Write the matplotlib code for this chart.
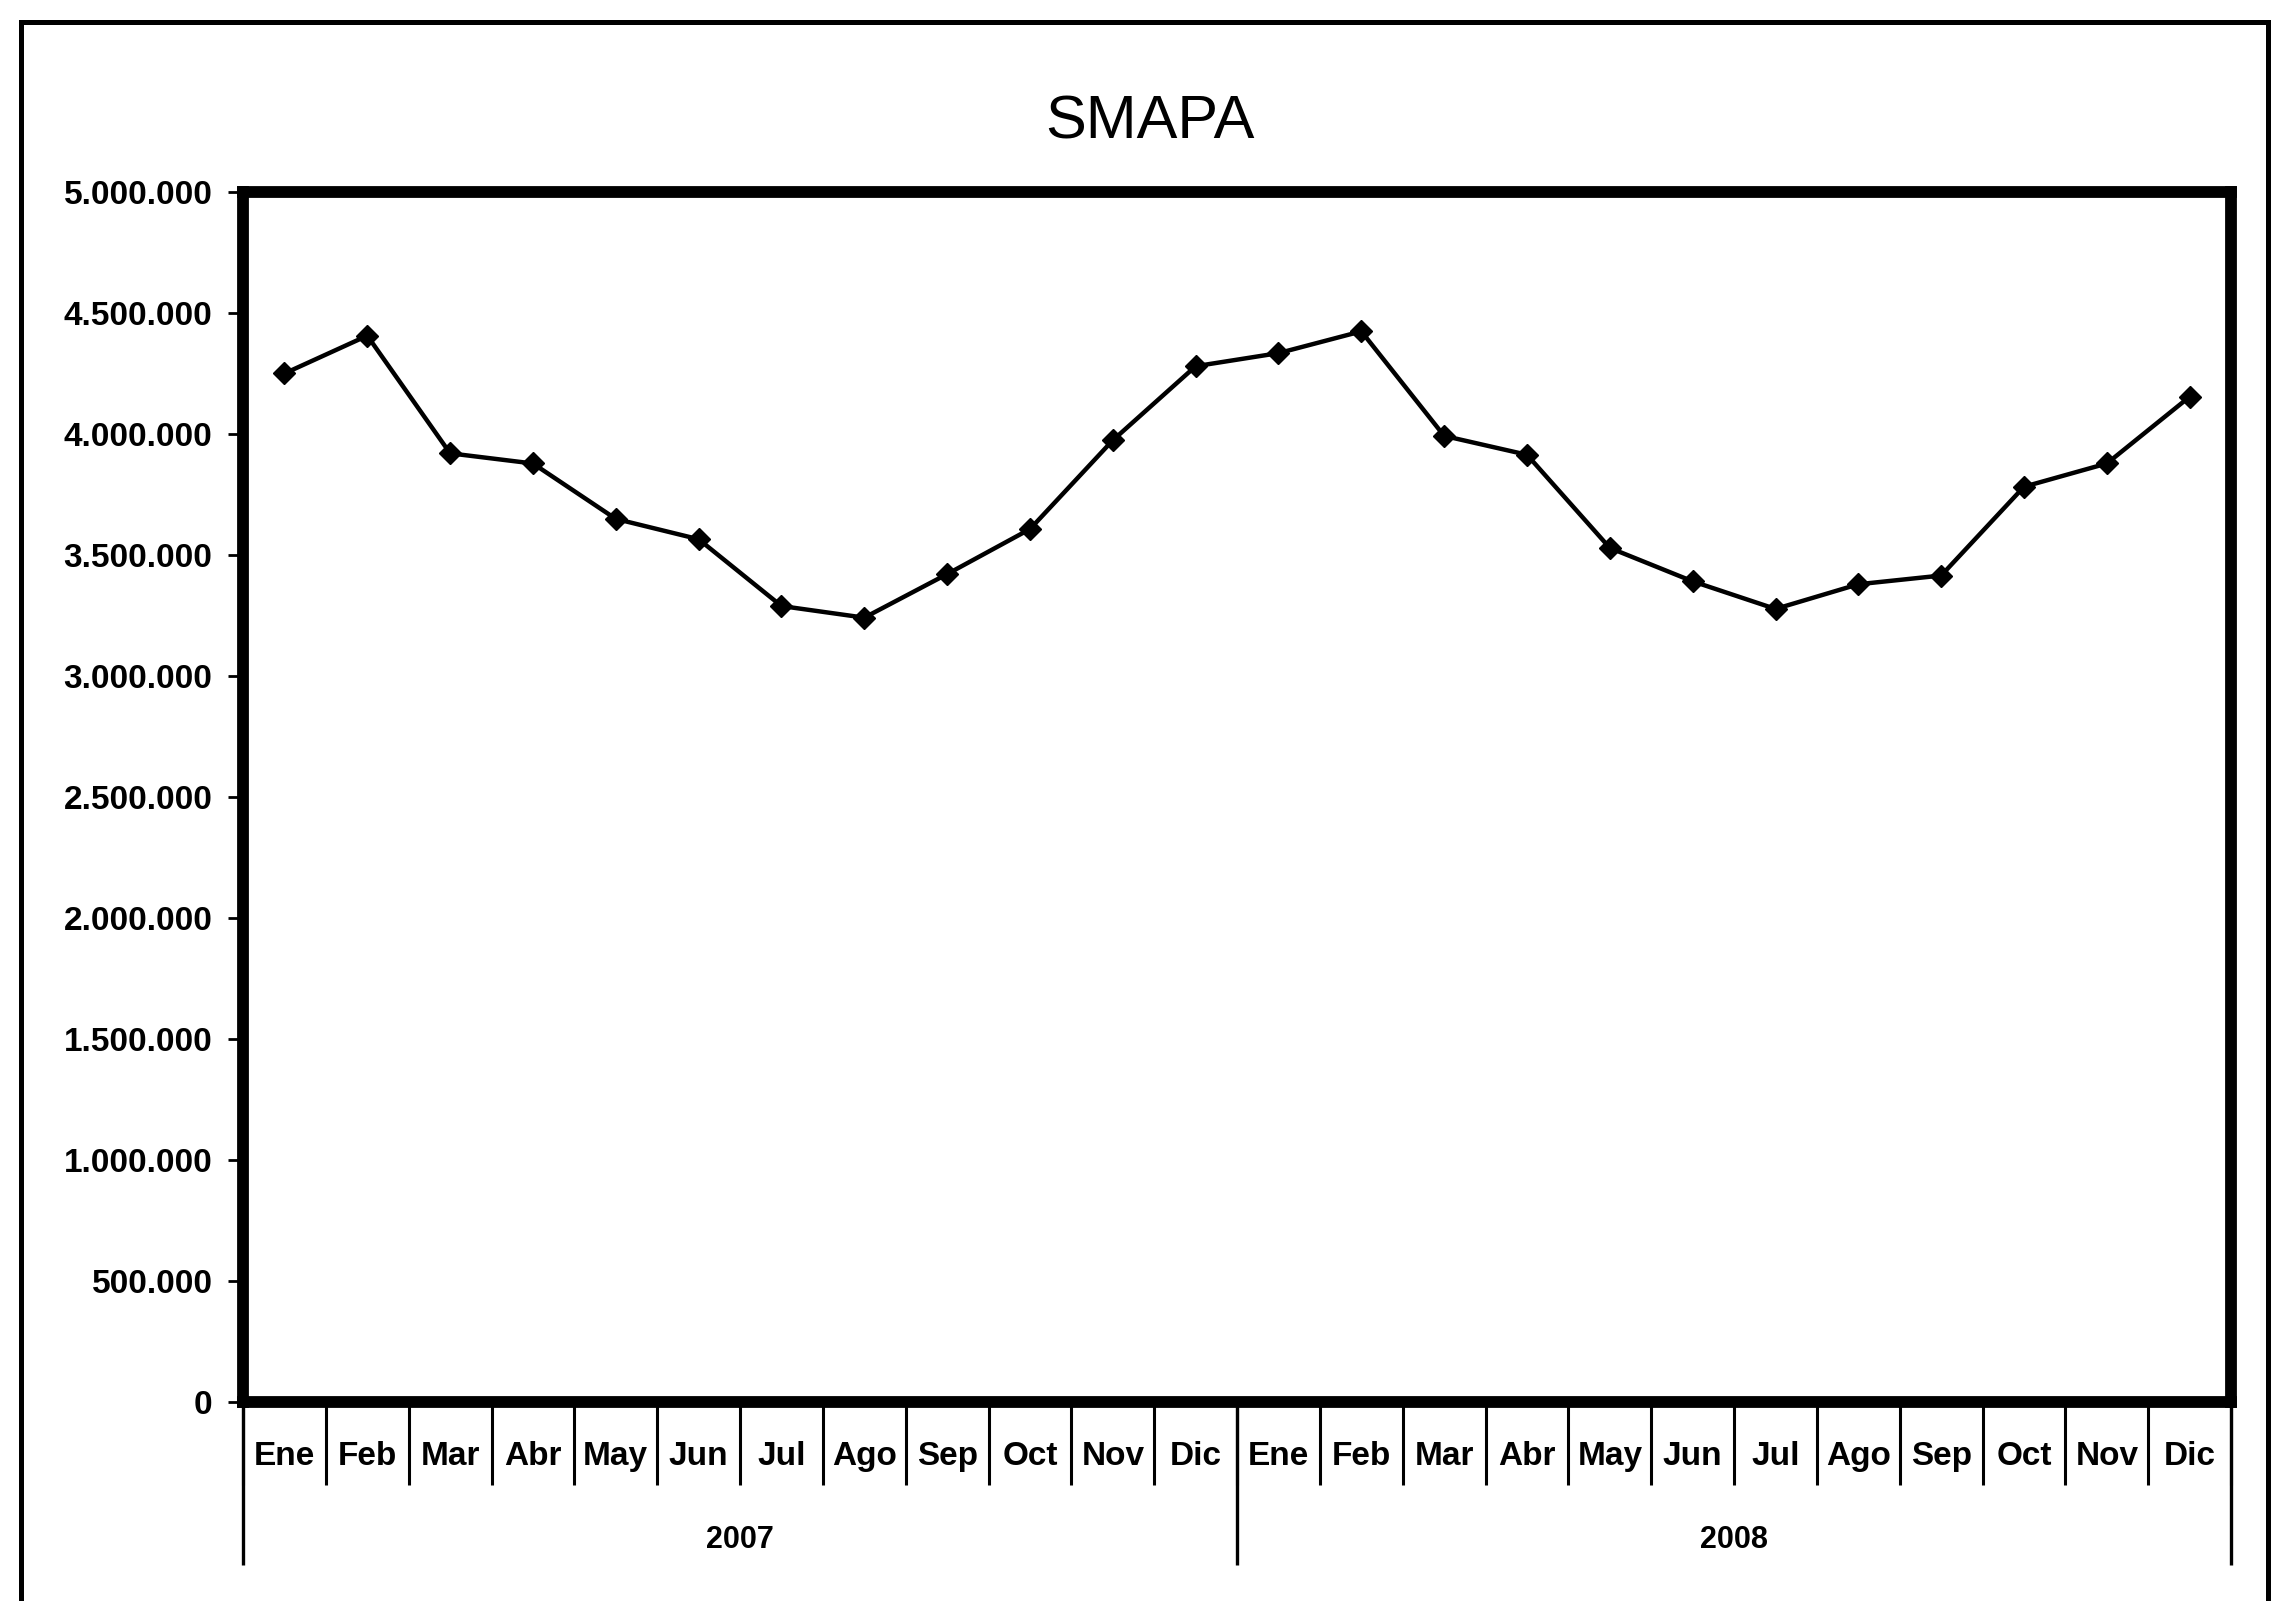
import matplotlib
matplotlib.use("Agg")
import matplotlib.pyplot as plt
from matplotlib.lines import Line2D
from matplotlib.ticker import FuncFormatter, MultipleLocator

# monthly values
months = ["Ene", "Feb", "Mar", "Abr", "May", "Jun",
          "Jul", "Ago", "Sep", "Oct", "Nov", "Dic"]
years = ["2007", "2008"]
values_2007 = [4250000, 4406000, 3920000, 3878000, 3649000, 3565000,
               3289000, 3241000, 3421000, 3607000, 3974000, 4280000]
values_2008 = [4334000, 4424000, 3992000, 3914000, 3529000, 3391000,
               3277000, 3379000, 3415000, 3782000, 3878000, 4154000]

values = values_2007 + values_2008
labels = months * len(years)
x = list(range(len(values)))

plt.rcParams['font.family'] = ['Liberation Sans', 'DejaVu Sans']

fig = plt.figure(figsize=(22.82, 16.01), dpi=100)
ax = fig.add_axes([0.1065, 0.1243, 0.8712, 0.7558])

ax.plot(x, values, color='black', linewidth=3.2, marker='D',
        markersize=11, markerfacecolor='black', markeredgecolor='black')

ax.set_xlim(-0.5, len(values) - 0.5)
ax.set_ylim(0, 5000000)

# thick plot frame
for side in ax.spines.values():
    side.set_linewidth(8.5)
    side.set_color('black')

# y axis
ax.yaxis.set_major_locator(MultipleLocator(500000))
ax.yaxis.set_major_formatter(FuncFormatter(lambda v, p: f"{int(v):,}".replace(",", ".")))
ax.tick_params(axis='y', direction='out', length=11, width=2, pad=11,
               labelsize=24)
for t in ax.get_yticklabels():
    t.set_fontweight('bold')

# x axis: separators between months, labels centred
ax.set_xticks([i - 0.5 for i in range(len(values) + 1)])
ax.set_xticklabels([])
ax.set_xticks(x, minor=True)
ax.set_xticklabels(labels, minor=True, fontsize=24, fontweight='bold')
ax.tick_params(axis='x', which='major', direction='out', length=60, width=2.2)
ax.tick_params(axis='x', which='minor', length=0, pad=28)

# year separators and year labels
trans = ax.get_xaxis_transform()
bounds = [-0.5] + [12 * (k + 1) - 0.5 for k in range(len(years))]
ax.vlines(bounds, -0.135, 0, transform=trans, colors='black',
          linewidth=2.4, clip_on=False)
for k, yr in enumerate(years):
    ax.text((bounds[k] + bounds[k + 1]) / 2, -0.114, yr, transform=trans,
            ha='center', va='center', fontsize=22, fontweight='bold')

fig.text(0.504, 0.923, "SMAPA", ha='center', va='center', fontsize=44)

# outer chart border
lw = 3.6
fig.add_artist(Line2D([21 / 2282, 2268 / 2282], [1 - 22 / 1601] * 2,
                      color='black', linewidth=lw))
fig.add_artist(Line2D([21 / 2282] * 2, [0, 1 - 22 / 1601],
                      color='black', linewidth=lw))
fig.add_artist(Line2D([2268 / 2282] * 2, [0, 1 - 22 / 1601],
                      color='black', linewidth=lw))

fig.savefig("out.png", dpi=100, facecolor='white')
